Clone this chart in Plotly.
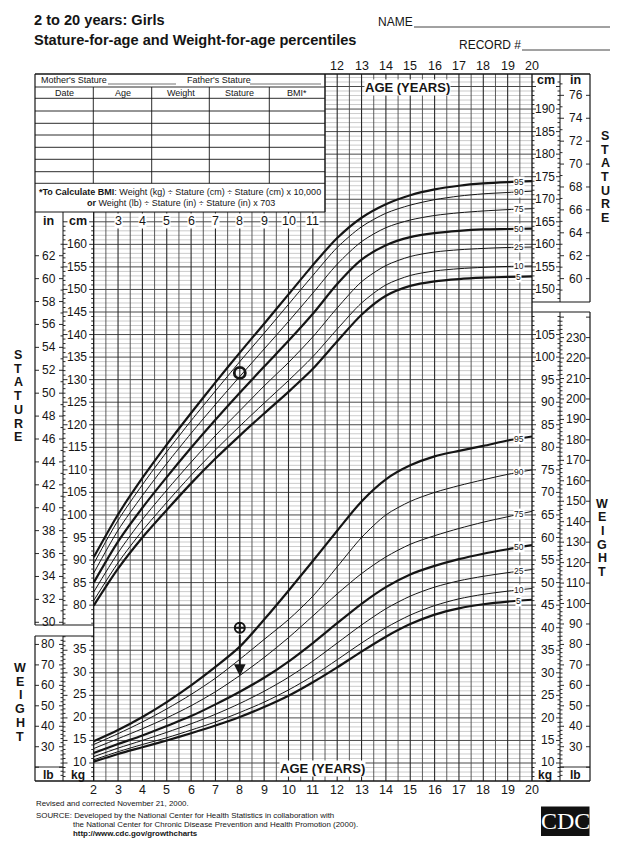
import numpy as np
import plotly.graph_objects as go

FIG_W, FIG_H = 633, 848
FONT = "Liberation Sans, Arial, sans-serif"
SERIF = "Liberation Serif, Times New Roman, serif"
INK = "#151515"

# ---------------- data ----------------
ages = [2, 3, 4, 5, 6, 7, 8, 9, 10, 11, 12, 13, 14, 15, 16, 17, 18, 19, 20]

stature_p5  = [79.9, 88.1, 95.0, 101.1, 107.0, 112.5, 117.6, 122.5, 127.3, 132.4, 138.5, 144.4, 148.6, 150.8, 151.8, 152.3, 152.6, 152.8, 152.9]
stature_p10 = [81.0, 89.4, 96.5, 102.8, 108.8, 114.4, 119.7, 124.8, 129.8, 135.1, 141.2, 147.0, 151.0, 153.1, 154.1, 154.6, 154.9, 155.1, 155.2]
stature_p25 = [82.9, 91.6, 99.0, 105.5, 111.7, 117.6, 123.1, 128.6, 133.8, 139.5, 145.9, 151.7, 155.3, 157.3, 158.3, 158.8, 159.1, 159.3, 159.4]
stature_p50 = [85.0, 94.1, 101.6, 108.4, 114.9, 121.1, 127.1, 132.9, 138.6, 144.6, 151.2, 156.6, 159.8, 161.6, 162.5, 163.0, 163.3, 163.4, 163.5]
stature_p75 = [87.1, 96.6, 104.3, 111.4, 118.1, 124.5, 130.7, 136.8, 142.9, 149.2, 155.6, 160.6, 163.7, 165.4, 166.4, 167.0, 167.4, 167.7, 167.9]
stature_p90 = [89.2, 98.8, 106.7, 114.0, 120.9, 127.5, 134.0, 140.3, 146.7, 153.1, 159.3, 163.9, 166.9, 168.7, 169.9, 170.7, 171.2, 171.5, 171.8]
stature_p95 = [90.6, 100.1, 108.2, 115.6, 122.6, 129.4, 136.0, 142.4, 148.9, 155.4, 161.4, 165.9, 168.9, 170.9, 172.2, 173.0, 173.5, 173.8, 174.0]

weight_p5  = [10.3, 12.0, 13.5, 15.0, 16.6, 18.3, 20.2, 22.4, 24.9, 27.9, 31.2, 34.7, 38.0, 40.8, 42.9, 44.3, 45.2, 45.8, 46.2]
weight_p10 = [10.7, 12.5, 14.1, 15.6, 17.3, 19.1, 21.2, 23.5, 26.2, 29.3, 32.9, 36.6, 40.0, 42.8, 44.9, 46.4, 47.4, 48.1, 48.7]
weight_p25 = [11.4, 13.3, 15.0, 16.8, 18.7, 20.8, 23.2, 25.9, 29.0, 32.6, 36.6, 40.6, 44.2, 47.0, 49.0, 50.4, 51.4, 52.2, 52.9]
weight_p50 = [12.2, 14.2, 16.1, 18.2, 20.4, 23.0, 25.8, 28.9, 32.5, 36.6, 41.0, 45.3, 49.0, 51.8, 53.7, 55.2, 56.4, 57.4, 58.3]
weight_p75 = [13.2, 15.4, 17.6, 20.0, 22.7, 25.8, 29.4, 33.4, 37.8, 42.6, 47.5, 52.0, 55.7, 58.5, 60.4, 62.0, 63.4, 64.6, 65.8]
weight_p90 = [14.1, 16.5, 19.1, 22.0, 25.2, 28.8, 33.0, 37.4, 41.8, 47.0, 53.5, 60.0, 65.0, 68.0, 70.0, 71.5, 72.8, 74.0, 75.0]
weight_p95 = [14.8, 17.3, 20.2, 23.5, 27.2, 31.3, 35.8, 41.8, 48.2, 54.8, 61.5, 68.0, 72.9, 76.0, 78.0, 79.2, 80.3, 81.5, 82.4]

percentile_names = ["5", "10", "25", "50", "75", "90", "95"]
stature_series = [stature_p5, stature_p10, stature_p25, stature_p50, stature_p75, stature_p90, stature_p95]
weight_series = [weight_p5, weight_p10, weight_p25, weight_p50, weight_p75, weight_p90, weight_p95]
bold_percentiles = ["5", "50", "95"]

patient_age = [8]
patient_stature_cm = [131.5]
patient_weight_kg = [40.0]
patient_weight_arrow_to_kg = [29.3]

top_age_ticks = [12, 13, 14, 15, 16, 17, 18, 19, 20]
header_age_ticks = [3, 4, 5, 6, 7, 8, 9, 10, 11]
bottom_age_ticks = list(range(2, 21))
left_in_ticks = list(range(30, 63, 2))
left_cm_ticks = list(range(80, 161, 5))
left_kg_ticks = list(range(10, 36, 5))
left_lb_ticks = list(range(30, 81, 10))
right_cm_ticks = list(range(150, 191, 5))
right_in_ticks = list(range(60, 77, 2))
right_kg_ticks = list(range(10, 106, 5))
right_lb_ticks = list(range(30, 231, 10))

# ---------------- geometry ----------------
AGE2_PX, PX_YR = 93.7, 24.35
U10_PY, PX_U = 763.0, 4.51
CM_SHIFT = 35.0
IN_CM, LB_KG = 2.54, 0.45359237


def age_of(px):
    return 2 + (px - AGE2_PX) / PX_YR


def u_of(py):
    return 10 + (U10_PY - py) / PX_U


def py_of(u):
    return U10_PY - (u - 10) * PX_U


fig = go.Figure()


def seg_trace(segs, color, width):
    xs, ys = [], []
    for x0, y0, x1, y1 in segs:
        xs += [x0, x1, None]
        ys += [y0, y1, None]
    fig.add_trace(go.Scatter(x=xs, y=ys, mode="lines", line=dict(color=color, width=width),
                             hoverinfo="skip", showlegend=False))


# ---- grid ----
U_BOT = u_of(781)
U_TAB = u_of(212)
U_TOP = u_of(74)
TAB_AGE = age_of(325)

minor_h, major_h = [], []
for u in range(7, int(U_TOP) + 1):
    x0 = 2 if u <= U_TAB else TAB_AGE
    (major_h if u % 5 == 0 else minor_h).append((x0, u, 20, u))
seg_trace(minor_h, "#a8a8a8", 0.6)
seg_trace(major_h, "#4a4a4a", 1.0)

half_v, year_v = [], []
for k in range(5, 40):
    a = k / 2
    top = U_TAB if a < TAB_AGE - 1e-6 else U_TOP
    (year_v if k % 2 == 0 else half_v).append((a, U_BOT, a, top))
seg_trace(half_v, "#4a4a4a", 0.9)
seg_trace(year_v, "#2a2a2a", 1.1)

# ---- scale column ticks (pixel x -> age) ----
ticks = []
gap_lo, gap_hi = u_of(636), u_of(625)
for u in range(7, 131):
    if gap_lo < u < gap_hi:
        continue
    ln = 4.5 if u % 5 == 0 else 2.5
    ticks.append((age_of(63), u, age_of(63 + ln), u))
    ticks.append((age_of(93.7), u, age_of(93.7 - ln), u))
for inch in range(29, 64):
    u = inch * IN_CM - CM_SHIFT
    if u < gap_hi or u > U_TAB - 1:
        continue
    ln = 4 if inch % 2 == 0 else 2.5
    ticks.append((age_of(63), u, age_of(63 - ln), u))
    if inch % 2 == 0:
        ticks.append((age_of(35), u, age_of(39), u))
for lb in range(16, 84, 2):
    u = lb * LB_KG
    if u < U_BOT + 0.3 or u > gap_lo - 0.3:
        continue
    ln = 4 if lb % 10 == 0 else 2.5
    ticks.append((age_of(63), u, age_of(63 - ln), u))
    if lb % 10 == 0:
        ticks.append((age_of(35), u, age_of(39), u))
U_RST_BOT, U_RW_TOP = u_of(302), u_of(312)
for u in range(7, int(U_TOP)):
    if U_RW_TOP - 0.3 < u < U_RST_BOT + 0.3:
        continue
    ln = 4 if u % 5 == 0 else 2.5
    ticks.append((age_of(532), u, age_of(532 + ln), u))
    ticks.append((age_of(560), u, age_of(560 - ln), u))
for inch in range(58, 78):
    u = inch * IN_CM - CM_SHIFT
    if u < U_RST_BOT + 0.3 or u > U_TOP - 0.5:
        continue
    ln = 4 if inch % 2 == 0 else 2.5
    ticks.append((age_of(560), u, age_of(560 + ln), u))
    if inch % 2 == 0:
        ticks.append((age_of(590), u, age_of(586), u))
for lb in range(16, 244, 2):
    u = lb * LB_KG
    if u < U_BOT + 0.3 or u > U_RW_TOP - 0.3:
        continue
    ln = 4 if lb % 10 == 0 else 2.5
    ticks.append((age_of(560), u, age_of(560 + ln), u))
    if lb % 10 == 0:
        ticks.append((age_of(590), u, age_of(586), u))
seg_trace(ticks, INK, 0.9)

# ---- percentile curves ----
for name, st, wt in zip(percentile_names, stature_series, weight_series):
    w = 2.2 if name in bold_percentiles else 1.0
    fig.add_trace(go.Scatter(x=ages, y=[v - CM_SHIFT for v in st], mode="lines",
                             line=dict(color=INK, width=w, shape="spline", smoothing=0.8),
                             hoverinfo="skip", showlegend=False))
    fig.add_trace(go.Scatter(x=ages, y=wt, mode="lines",
                             line=dict(color=INK, width=w, shape="spline", smoothing=0.8),
                             hoverinfo="skip", showlegend=False))

# ---- patient marks ----
fig.add_trace(go.Scatter(x=patient_age, y=[v - CM_SHIFT for v in patient_stature_cm], mode="markers",
                         marker=dict(symbol="circle-open", size=11, color=INK, line=dict(color=INK, width=2.8)),
                         hoverinfo="skip", showlegend=False))
fig.add_trace(go.Scatter(x=patient_age, y=patient_weight_kg, mode="markers",
                         marker=dict(symbol="circle-cross-open", size=10, color=INK, line=dict(color=INK, width=2)),
                         hoverinfo="skip", showlegend=False))

anns = []
anns.append(dict(x=patient_age[0], y=patient_weight_arrow_to_kg[0], ax=patient_age[0],
                 ay=patient_weight_kg[0] - 1.3, xref="x", yref="y", axref="x", ayref="y",
                 showarrow=True, arrowhead=2, arrowsize=1.3, arrowwidth=1.8, arrowcolor=INK, text=""))

# ---------------- decorations (pixel based, paper coords) ----------------
shapes = []


def L(x0, y0, x1, y1, w=1.0, c=INK):
    shapes.append(dict(type="line", xref="paper", yref="paper", x0=x0 / FIG_W, y0=1 - y0 / FIG_H,
                       x1=x1 / FIG_W, y1=1 - y1 / FIG_H, line=dict(color=c, width=w)))


def T(text, x, y, size=11, xanchor="center", bold=False, bg=None, family=FONT, color=INK):
    d = dict(x=x / FIG_W, y=1 - y / FIG_H, xref="paper", yref="paper", showarrow=False,
             text=f"<b>{text}</b>" if bold else text, xanchor=xanchor, yanchor="middle",
             font=dict(family=family, size=size, color=color), borderpad=0)
    if bg:
        d["bgcolor"] = bg
    anns.append(d)


# frame
L(35, 74, 590, 74, 1.4)
L(35, 74, 35, 625, 1.2)
L(35, 636, 35, 781, 1.2)
L(35, 212, 325, 212, 1.2)
L(325, 74, 325, 212, 1.2)
L(63, 212, 63, 625, 1.0)
L(63, 636, 63, 781, 1.0)
L(35, 625, 93.7, 625, 1.2)
L(35, 636, 93.7, 636, 1.2)
L(93.7, 212, 93.7, 781, 1.3)
L(35, 781, 590, 781, 1.4)
L(532, 74, 532, 781, 1.3)
L(560, 74, 560, 302, 1.0)
L(560, 312, 560, 781, 1.0)
L(590, 74, 590, 302, 1.2)
L(590, 312, 590, 781, 1.2)
L(532, 302, 590, 302, 1.2)
L(532, 312, 590, 312, 1.2)
L(35, 767, 63, 767, 0.9)
L(560, 767, 590, 767, 0.9)

# data-entry table
for yy in [87, 98.3, 111, 123.3, 135, 147.3, 159.3, 171.7, 183.3]:
    L(35, yy, 325, yy, 0.9)
for xx in [93.3, 151.7, 209.3, 269.3]:
    L(xx, 87, xx, 183.3, 0.9)
L(108, 84, 176, 84, 0.6)
L(250, 84, 321, 84, 0.6)
T("Mother's Stature", 40, 80.5, 9, "left")
T("Father's Stature", 186, 80.5, 9, "left")
for txt, cx in zip(["Date", "Age", "Weight", "Stature", "BMI*"], [64, 122.5, 180.5, 239.3, 297]):
    T(txt, cx, 93, 9)
T("<b>*To Calculate BMI</b>: Weight (kg) ÷ Stature (cm) ÷ Stature (cm) x 10,000", 180, 191.7, 9)
T("<b>or</b> Weight (lb) ÷ Stature (in) ÷ Stature (in) x 703", 181, 203.3, 9)

# titles
T("2 to 20 years: Girls", 33, 20, 14.6, "left", bold=True)
T("Stature-for-age and Weight-for-age percentiles", 33, 40.5, 14.6, "left", bold=True)
T("NAME", 377, 22, 12, "left")
L(414, 27, 610, 27, 0.8)
T("RECORD #", 458, 45.5, 12, "left")
L(522, 50, 610, 50, 0.8)

# age labels
for a in top_age_ticks:
    T(str(a), AGE2_PX + (a - 2) * PX_YR, 66, 12.5)
for a in header_age_ticks:
    T(str(a), AGE2_PX + (a - 2) * PX_YR, 221, 12.5, bg="white")
for a in bottom_age_ticks:
    T(str(a), AGE2_PX + (a - 2) * PX_YR, 790, 12.5)
T("AGE (YEARS)", 407, 88, 13, bold=True, bg="white")
T("AGE (YEARS)", 322, 768, 13, bold=True, bg="white")

# column headers
T("in", 48.5, 221, 12.5, bold=True)
T("cm", 78, 221, 12.5, bold=True)
T("cm", 546, 80, 12.5, bold=True)
T("in", 575, 80, 12.5, bold=True)
T("lb", 48.5, 775, 12, bold=True)
T("kg", 78, 775, 12, bold=True)
T("kg", 545, 775, 12, bold=True)
T("lb", 575, 775, 12, bold=True)

# scale labels
for v in left_in_ticks:
    T(str(v), 48.5, py_of(v * IN_CM - CM_SHIFT), 12)
for v in left_cm_ticks:
    T(str(v), 87.5, py_of(v - CM_SHIFT), 12, "right")
for v in left_kg_ticks:
    T(str(v), 87.5, py_of(v) - 1, 12, "right")
for v in left_lb_ticks:
    T(str(v), 48, py_of(v * LB_KG), 12)
for v in right_cm_ticks:
    T(str(v), 555.5, py_of(v - CM_SHIFT), 12, "right")
for v in right_in_ticks:
    T(str(v), 575.5, py_of(v * IN_CM - CM_SHIFT), 12)
for v in right_kg_ticks:
    T(str(v), 555.5, py_of(v) - (1 if v == 10 else 0), 12, "right")
for v in right_lb_ticks:
    T(str(v), 575.5, py_of(v * LB_KG), 12)

# vertical words
for word, cx, y0 in [("STATURE", 18, 355), ("STATURE", 605, 136), ("WEIGHT", 20, 668), ("WEIGHT", 602, 503.5)]:
    for i, ch in enumerate(word):
        T(ch, cx, y0 + i * 13.7, 12.5, bold=True)

# percentile labels
LABEL_AGE = 19.45
for name, st, wt in zip(percentile_names, stature_series, weight_series):
    ys = float(np.interp(LABEL_AGE, ages, st)) - CM_SHIFT
    yw = float(np.interp(LABEL_AGE, ages, wt))
    for yv in (ys, yw):
        anns.append(dict(x=LABEL_AGE, y=yv, xref="x", yref="y", showarrow=False, text=name,
                         font=dict(family=FONT, size=8.5, color=INK), bgcolor="white", borderpad=0,
                         xanchor="center", yanchor="middle"))

# footer
T("Revised and corrected November 21, 2000.", 35, 803.3, 7.9, "left")
T("SOURCE: Developed by the National Center for Health Statistics in collaboration with", 35, 815, 7.9, "left")
T("the National Center for Chronic Disease Prevention and Health Promotion (2000).", 72, 824.5, 7.9, "left")
T("http://www.cdc.gov/growthcharts", 72, 833.5, 7.9, "left", bold=True)

shapes.append(dict(type="rect", xref="paper", yref="paper", x0=541 / FIG_W, x1=589.5 / FIG_W,
                   y0=1 - 836 / FIG_H, y1=1 - 806.5 / FIG_H, fillcolor="#111", line=dict(width=0)))
T("CDC", 565, 821, 24, family=SERIF, color="white")

fig.update_layout(
    width=FIG_W, height=FIG_H, autosize=False,
    margin=dict(l=0, r=0, t=0, b=0, pad=0),
    paper_bgcolor="white", plot_bgcolor="white",
    xaxis=dict(range=[age_of(0), age_of(FIG_W)], visible=False, fixedrange=True),
    yaxis=dict(range=[u_of(FIG_H), u_of(0)], visible=False, fixedrange=True),
    shapes=shapes, annotations=anns, showlegend=False,
)

fig.write_html("out.html", config={"displayModeBar": False},
               post_script="document.body.style.margin='0px';")
